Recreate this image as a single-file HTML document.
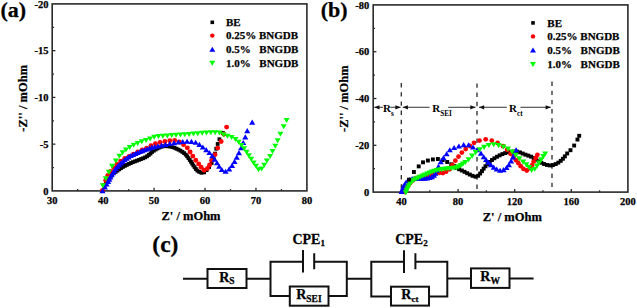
<!DOCTYPE html>
<html><head><meta charset="utf-8"><style>
html,body{margin:0;padding:0;background:#fff;width:637px;height:308px;overflow:hidden}
svg{display:block}
text{font-family:"Liberation Serif",serif;font-weight:bold;fill:#000;stroke:#000;stroke-width:0.25px}
.tk{font-size:10.5px}
.lab{font-size:12.5px}
.leg{font-size:11px}
.ann{font-size:11px;stroke-width:0}
.sub{font-size:7.2px;stroke-width:0}
.cl{font-size:14px}
.cs{font-size:9.5px}
.cp{font-size:14px}
.cps{font-size:9px}
.big{font-size:22px}
.bigc{font-size:23.5px}
</style></head><body>
<svg width="637" height="308" viewBox="0 0 637 308">
<rect x="52.2" y="3.9" width="254.70" height="187.00" fill="none" stroke="#2a2a2a" stroke-width="1.6"/><text transform="translate(52.20 204.30) scale(1 1.0)" text-anchor="middle" class="tk">30</text><line x1="77.67" y1="190.9" x2="77.67" y2="189.1" stroke="#2a2a2a" stroke-width="1.3"/><line x1="103.14" y1="190.9" x2="103.14" y2="187.70000000000002" stroke="#2a2a2a" stroke-width="1.3"/><text transform="translate(103.14 204.30) scale(1 1.0)" text-anchor="middle" class="tk">40</text><line x1="128.61" y1="190.9" x2="128.61" y2="189.1" stroke="#2a2a2a" stroke-width="1.3"/><line x1="154.08" y1="190.9" x2="154.08" y2="187.70000000000002" stroke="#2a2a2a" stroke-width="1.3"/><text transform="translate(154.08 204.30) scale(1 1.0)" text-anchor="middle" class="tk">50</text><line x1="179.55" y1="190.9" x2="179.55" y2="189.1" stroke="#2a2a2a" stroke-width="1.3"/><line x1="205.02" y1="190.9" x2="205.02" y2="187.70000000000002" stroke="#2a2a2a" stroke-width="1.3"/><text transform="translate(205.02 204.30) scale(1 1.0)" text-anchor="middle" class="tk">60</text><line x1="230.49" y1="190.9" x2="230.49" y2="189.1" stroke="#2a2a2a" stroke-width="1.3"/><line x1="255.96" y1="190.9" x2="255.96" y2="187.70000000000002" stroke="#2a2a2a" stroke-width="1.3"/><text transform="translate(255.96 204.30) scale(1 1.0)" text-anchor="middle" class="tk">70</text><line x1="281.43" y1="190.9" x2="281.43" y2="189.1" stroke="#2a2a2a" stroke-width="1.3"/><text transform="translate(306.90 204.30) scale(1 1.0)" text-anchor="middle" class="tk">80</text><text transform="translate(48.5 194.50) scale(1 1.0)" text-anchor="end" class="tk">0</text><line x1="52.2" y1="167.53" x2="54.0" y2="167.53" stroke="#2a2a2a" stroke-width="1.3"/><line x1="52.2" y1="144.15" x2="55.400000000000006" y2="144.15" stroke="#2a2a2a" stroke-width="1.3"/><text transform="translate(48.5 147.75) scale(1 1.0)" text-anchor="end" class="tk">-5</text><line x1="52.2" y1="120.78" x2="54.0" y2="120.78" stroke="#2a2a2a" stroke-width="1.3"/><line x1="52.2" y1="97.40" x2="55.400000000000006" y2="97.40" stroke="#2a2a2a" stroke-width="1.3"/><text transform="translate(48.5 101.00) scale(1 1.0)" text-anchor="end" class="tk">-10</text><line x1="52.2" y1="74.03" x2="54.0" y2="74.03" stroke="#2a2a2a" stroke-width="1.3"/><line x1="52.2" y1="50.65" x2="55.400000000000006" y2="50.65" stroke="#2a2a2a" stroke-width="1.3"/><text transform="translate(48.5 54.25) scale(1 1.0)" text-anchor="end" class="tk">-15</text><line x1="52.2" y1="27.28" x2="54.0" y2="27.28" stroke="#2a2a2a" stroke-width="1.3"/><text transform="translate(48.5 7.50) scale(1 1.0)" text-anchor="end" class="tk">-20</text><text transform="translate(191 220.00) scale(1 1.0)" text-anchor="middle" class="lab">Z' / mOhm</text><text transform="translate(27.3 98.3) rotate(-90)" text-anchor="middle" class="lab">-Z'' / mOhm</text><rect x="100.60" y="189.10" width="3.80" height="3.80" fill="#000"/><rect x="102.63" y="184.53" width="3.80" height="3.80" fill="#000"/><rect x="104.11" y="181.80" width="3.80" height="3.80" fill="#000"/><rect x="105.28" y="179.75" width="3.80" height="3.80" fill="#000"/><rect x="106.43" y="177.87" width="3.80" height="3.80" fill="#000"/><rect x="107.63" y="176.03" width="3.80" height="3.80" fill="#000"/><rect x="108.88" y="174.22" width="3.80" height="3.80" fill="#000"/><rect x="110.21" y="172.47" width="3.80" height="3.80" fill="#000"/><rect x="111.78" y="170.94" width="3.80" height="3.80" fill="#000"/><rect x="113.74" y="169.94" width="3.80" height="3.80" fill="#000"/><rect x="115.56" y="168.71" width="3.80" height="3.80" fill="#000"/><rect x="117.34" y="167.41" width="3.80" height="3.80" fill="#000"/><rect x="119.15" y="166.17" width="3.80" height="3.80" fill="#000"/><rect x="121.03" y="165.02" width="3.80" height="3.80" fill="#000"/><rect x="122.96" y="163.97" width="3.80" height="3.80" fill="#000"/><rect x="124.93" y="162.99" width="3.80" height="3.80" fill="#000"/><rect x="126.91" y="162.04" width="3.80" height="3.80" fill="#000"/><rect x="128.92" y="161.13" width="3.80" height="3.80" fill="#000"/><rect x="130.94" y="160.27" width="3.80" height="3.80" fill="#000"/><rect x="133.00" y="159.48" width="3.80" height="3.80" fill="#000"/><rect x="135.06" y="158.72" width="3.80" height="3.80" fill="#000"/><rect x="137.12" y="157.94" width="3.80" height="3.80" fill="#000"/><rect x="139.17" y="157.16" width="3.80" height="3.80" fill="#000"/><rect x="141.23" y="156.37" width="3.80" height="3.80" fill="#000"/><rect x="143.24" y="155.48" width="3.80" height="3.80" fill="#000"/><rect x="145.14" y="154.38" width="3.80" height="3.80" fill="#000"/><rect x="146.90" y="153.07" width="3.80" height="3.80" fill="#000"/><rect x="148.60" y="151.66" width="3.80" height="3.80" fill="#000"/><rect x="150.10" y="150.06" width="3.80" height="3.80" fill="#000"/><rect x="151.88" y="148.77" width="3.80" height="3.80" fill="#000"/><rect x="153.75" y="147.62" width="3.80" height="3.80" fill="#000"/><rect x="155.67" y="146.53" width="3.80" height="3.80" fill="#000"/><rect x="157.64" y="145.56" width="3.80" height="3.80" fill="#000"/><rect x="159.69" y="144.78" width="3.80" height="3.80" fill="#000"/><rect x="161.85" y="144.35" width="3.80" height="3.80" fill="#000"/><rect x="164.04" y="144.23" width="3.80" height="3.80" fill="#000"/><rect x="166.24" y="144.37" width="3.80" height="3.80" fill="#000"/><rect x="168.41" y="144.70" width="3.80" height="3.80" fill="#000"/><rect x="170.54" y="145.24" width="3.80" height="3.80" fill="#000"/><rect x="172.62" y="145.97" width="3.80" height="3.80" fill="#000"/><rect x="174.65" y="146.83" width="3.80" height="3.80" fill="#000"/><rect x="176.64" y="147.77" width="3.80" height="3.80" fill="#000"/><rect x="178.58" y="148.80" width="3.80" height="3.80" fill="#000"/><rect x="180.45" y="149.96" width="3.80" height="3.80" fill="#000"/><rect x="182.22" y="151.26" width="3.80" height="3.80" fill="#000"/><rect x="183.85" y="152.73" width="3.80" height="3.80" fill="#000"/><rect x="185.27" y="154.41" width="3.80" height="3.80" fill="#000"/><rect x="186.55" y="156.20" width="3.80" height="3.80" fill="#000"/><rect x="187.82" y="158.00" width="3.80" height="3.80" fill="#000"/><rect x="189.04" y="159.83" width="3.80" height="3.80" fill="#000"/><rect x="190.23" y="161.68" width="3.80" height="3.80" fill="#000"/><rect x="191.46" y="163.50" width="3.80" height="3.80" fill="#000"/><rect x="192.72" y="165.31" width="3.80" height="3.80" fill="#000"/><rect x="193.99" y="167.10" width="3.80" height="3.80" fill="#000"/><rect x="195.47" y="168.73" width="3.80" height="3.80" fill="#000"/><rect x="197.28" y="169.97" width="3.80" height="3.80" fill="#000"/><rect x="199.54" y="170.85" width="3.80" height="3.80" fill="#000"/><rect x="202.21" y="170.48" width="3.80" height="3.80" fill="#000"/><rect x="204.66" y="168.28" width="3.80" height="3.80" fill="#000"/><rect x="207.21" y="165.14" width="3.80" height="3.80" fill="#000"/><rect x="209.75" y="161.08" width="3.80" height="3.80" fill="#000"/><rect x="211.69" y="156.48" width="3.80" height="3.80" fill="#000"/><rect x="213.16" y="151.70" width="3.80" height="3.80" fill="#000"/><rect x="214.33" y="146.84" width="3.80" height="3.80" fill="#000"/><rect x="215.79" y="142.06" width="3.80" height="3.80" fill="#000"/><rect x="217.51" y="137.37" width="3.80" height="3.80" fill="#000"/><rect x="221.00" y="131.10" width="3.80" height="3.80" fill="#000"/><circle cx="102.50" cy="190.50" r="2.45" fill="#f00"/><circle cx="104.10" cy="185.24" r="2.45" fill="#f00"/><circle cx="105.74" cy="180.19" r="2.45" fill="#f00"/><circle cx="107.80" cy="175.49" r="2.45" fill="#f00"/><circle cx="110.59" cy="171.38" r="2.45" fill="#f00"/><circle cx="113.76" cy="167.77" r="2.45" fill="#f00"/><circle cx="116.95" cy="164.17" r="2.45" fill="#f00"/><circle cx="120.67" cy="161.11" r="2.45" fill="#f00"/><circle cx="124.77" cy="158.56" r="2.45" fill="#f00"/><circle cx="129.08" cy="156.34" r="2.45" fill="#f00"/><circle cx="133.42" cy="154.19" r="2.45" fill="#f00"/><circle cx="137.78" cy="152.05" r="2.45" fill="#f00"/><circle cx="142.21" cy="150.04" r="2.45" fill="#f00"/><circle cx="146.69" cy="148.15" r="2.45" fill="#f00"/><circle cx="150.96" cy="145.77" r="2.45" fill="#f00"/><circle cx="155.38" cy="143.71" r="2.45" fill="#f00"/><circle cx="160.08" cy="142.33" r="2.45" fill="#f00"/><circle cx="164.92" cy="141.57" r="2.45" fill="#f00"/><circle cx="169.78" cy="140.79" r="2.45" fill="#f00"/><circle cx="174.68" cy="140.53" r="2.45" fill="#f00"/><circle cx="179.37" cy="142.00" r="2.45" fill="#f00"/><circle cx="183.56" cy="144.63" r="2.45" fill="#f00"/><circle cx="187.33" cy="147.84" r="2.45" fill="#f00"/><circle cx="190.12" cy="151.95" r="2.45" fill="#f00"/><circle cx="192.86" cy="156.11" r="2.45" fill="#f00"/><circle cx="195.76" cy="160.18" r="2.45" fill="#f00"/><circle cx="198.66" cy="163.89" r="2.45" fill="#f00"/><circle cx="201.16" cy="167.26" r="2.45" fill="#f00"/><circle cx="204.05" cy="170.30" r="2.45" fill="#f00"/><circle cx="207.42" cy="168.49" r="2.45" fill="#f00"/><circle cx="209.60" cy="164.91" r="2.45" fill="#f00"/><circle cx="211.62" cy="160.34" r="2.45" fill="#f00"/><circle cx="215.03" cy="154.62" r="2.45" fill="#f00"/><circle cx="217.75" cy="148.09" r="2.45" fill="#f00"/><circle cx="221.15" cy="141.49" r="2.45" fill="#f00"/><circle cx="223.91" cy="134.23" r="2.45" fill="#f00"/><circle cx="226.60" cy="127.10" r="2.45" fill="#f00"/><path d="M102.50 188.25L105.56 193.35H99.44Z" fill="#00f"/><path d="M104.87 184.42L107.93 189.52H101.81Z" fill="#00f"/><path d="M106.68 181.45L109.74 186.55H103.62Z" fill="#00f"/><path d="M108.17 178.91L111.23 184.01H105.11Z" fill="#00f"/><path d="M109.30 176.66L112.36 181.76H106.24Z" fill="#00f"/><path d="M110.40 174.42L113.46 179.52H107.34Z" fill="#00f"/><path d="M111.68 172.27L114.74 177.37H108.62Z" fill="#00f"/><path d="M113.03 170.17L116.09 175.27H109.97Z" fill="#00f"/><path d="M114.34 168.04L117.40 173.14H111.28Z" fill="#00f"/><path d="M115.69 165.94L118.75 171.04H112.63Z" fill="#00f"/><path d="M117.28 164.01L120.34 169.11H114.22Z" fill="#00f"/><path d="M119.07 162.26L122.13 167.36H116.01Z" fill="#00f"/><path d="M120.81 160.47L123.87 165.57H117.75Z" fill="#00f"/><path d="M122.65 158.78L125.71 163.88H119.59Z" fill="#00f"/><path d="M124.61 157.23L127.67 162.33H121.55Z" fill="#00f"/><path d="M126.60 155.72L129.66 160.82H123.54Z" fill="#00f"/><path d="M128.65 154.28L131.71 159.38H125.59Z" fill="#00f"/><path d="M130.80 153.01L133.86 158.11H127.74Z" fill="#00f"/><path d="M133.04 151.91L136.10 157.01H129.98Z" fill="#00f"/><path d="M135.33 150.91L138.39 156.01H132.27Z" fill="#00f"/><path d="M137.63 149.92L140.69 155.02H134.57Z" fill="#00f"/><path d="M139.95 148.99L143.01 154.09H136.89Z" fill="#00f"/><path d="M142.28 148.09L145.34 153.19H139.22Z" fill="#00f"/><path d="M144.63 147.22L147.69 152.32H141.57Z" fill="#00f"/><path d="M146.98 146.38L150.04 151.48H143.92Z" fill="#00f"/><path d="M149.36 145.60L152.42 150.70H146.30Z" fill="#00f"/><path d="M151.81 144.83L154.87 149.93H148.75Z" fill="#00f"/><path d="M154.67 144.05L157.73 149.15H151.61Z" fill="#00f"/><path d="M157.94 143.32L161.00 148.42H154.88Z" fill="#00f"/><path d="M161.57 142.62L164.63 147.72H158.51Z" fill="#00f"/><path d="M165.51 141.86L168.57 146.96H162.45Z" fill="#00f"/><path d="M169.76 140.97L172.82 146.07H166.70Z" fill="#00f"/><path d="M174.06 140.08L177.12 145.18H171.00Z" fill="#00f"/><path d="M178.39 139.39L181.45 144.49H175.33Z" fill="#00f"/><path d="M182.73 138.88L185.79 143.98H179.67Z" fill="#00f"/><path d="M187.08 138.65L190.14 143.75H184.02Z" fill="#00f"/><path d="M191.43 138.81L194.49 143.91H188.37Z" fill="#00f"/><path d="M195.67 139.67L198.73 144.77H192.61Z" fill="#00f"/><path d="M199.40 141.82L202.46 146.92H196.34Z" fill="#00f"/><path d="M202.85 144.41L205.91 149.51H199.79Z" fill="#00f"/><path d="M206.23 147.05L209.29 152.15H203.17Z" fill="#00f"/><path d="M209.42 149.91L212.48 155.01H206.36Z" fill="#00f"/><path d="M212.26 153.08L215.32 158.18H209.20Z" fill="#00f"/><path d="M214.67 156.58L217.73 161.68H211.61Z" fill="#00f"/><path d="M216.98 160.13L220.04 165.23H213.92Z" fill="#00f"/><path d="M219.17 163.74L222.23 168.84H216.11Z" fill="#00f"/><path d="M221.80 167.00L224.86 172.10H218.74Z" fill="#00f"/><path d="M225.57 168.66L228.63 173.76H222.51Z" fill="#00f"/><path d="M229.20 166.34L232.26 171.44H226.14Z" fill="#00f"/><path d="M232.06 162.81L235.12 167.91H229.00Z" fill="#00f"/><path d="M234.53 158.83L237.59 163.93H231.47Z" fill="#00f"/><path d="M236.76 154.59L239.82 159.69H233.70Z" fill="#00f"/><path d="M238.93 150.04L241.99 155.14H235.87Z" fill="#00f"/><path d="M241.11 145.20L244.17 150.30H238.05Z" fill="#00f"/><path d="M243.24 139.97L246.30 145.07H240.18Z" fill="#00f"/><path d="M245.29 134.28L248.35 139.38H242.23Z" fill="#00f"/><path d="M247.27 128.04L250.33 133.14H244.21Z" fill="#00f"/><path d="M252.20 119.55L255.26 124.65H249.14Z" fill="#00f"/><path d="M102.80 188.30L105.80 183.30H99.80Z" fill="#0f0"/><path d="M105.80 181.32L108.80 176.32H102.80Z" fill="#0f0"/><path d="M108.78 174.75L111.78 169.75H105.78Z" fill="#0f0"/><path d="M112.09 168.78L115.09 163.78H109.09Z" fill="#0f0"/><path d="M115.85 163.56L118.85 158.56H112.85Z" fill="#0f0"/><path d="M119.39 158.71L122.39 153.71H116.39Z" fill="#0f0"/><path d="M122.55 155.29L125.55 150.29H119.55Z" fill="#0f0"/><path d="M125.98 152.39L128.98 147.39H122.98Z" fill="#0f0"/><path d="M129.69 149.90L132.69 144.90H126.69Z" fill="#0f0"/><path d="M133.64 147.81L136.64 142.81H130.64Z" fill="#0f0"/><path d="M137.67 145.92L140.67 140.92H134.67Z" fill="#0f0"/><path d="M141.76 144.19L144.76 139.19H138.76Z" fill="#0f0"/><path d="M146.03 143.02L149.03 138.02H143.03Z" fill="#0f0"/><path d="M150.14 141.41L153.14 136.41H147.14Z" fill="#0f0"/><path d="M154.19 139.66L157.19 134.66H151.19Z" fill="#0f0"/><path d="M158.52 138.88L161.52 133.88H155.52Z" fill="#0f0"/><path d="M162.91 138.66L165.91 133.66H159.91Z" fill="#0f0"/><path d="M167.30 138.41L170.30 133.41H164.30Z" fill="#0f0"/><path d="M171.67 138.06L174.67 133.06H168.67Z" fill="#0f0"/><path d="M176.04 137.74L179.04 132.74H173.04Z" fill="#0f0"/><path d="M180.42 137.49L183.42 132.49H177.42Z" fill="#0f0"/><path d="M184.78 137.26L187.78 132.26H181.78Z" fill="#0f0"/><path d="M189.14 136.95L192.14 131.95H186.14Z" fill="#0f0"/><path d="M193.48 136.55L196.48 131.55H190.48Z" fill="#0f0"/><path d="M197.82 136.16L200.82 131.16H194.82Z" fill="#0f0"/><path d="M202.16 135.83L205.16 130.83H199.16Z" fill="#0f0"/><path d="M206.50 135.53L209.50 130.53H203.50Z" fill="#0f0"/><path d="M210.83 135.28L213.83 130.28H207.83Z" fill="#0f0"/><path d="M215.17 135.19L218.17 130.19H212.17Z" fill="#0f0"/><path d="M219.48 135.58L222.48 130.58H216.48Z" fill="#0f0"/><path d="M223.48 137.16L226.48 132.16H220.48Z" fill="#0f0"/><path d="M227.47 138.79L230.47 133.79H224.47Z" fill="#0f0"/><path d="M231.58 140.07L234.58 135.07H228.58Z" fill="#0f0"/><path d="M235.46 141.89L238.46 136.89H232.46Z" fill="#0f0"/><path d="M238.64 144.74L241.64 139.74H235.64Z" fill="#0f0"/><path d="M241.48 147.94L244.48 142.94H238.48Z" fill="#0f0"/><path d="M244.11 151.29L247.11 146.29H241.11Z" fill="#0f0"/><path d="M246.55 154.77L249.55 149.77H243.55Z" fill="#0f0"/><path d="M248.87 158.34L251.87 153.34H245.87Z" fill="#0f0"/><path d="M251.22 161.87L254.22 156.87H248.22Z" fill="#0f0"/><path d="M253.60 165.38L256.60 160.38H250.60Z" fill="#0f0"/><path d="M256.05 168.82L259.05 163.82H253.05Z" fill="#0f0"/><path d="M258.51 172.25L261.51 167.25H255.51Z" fill="#0f0"/><path d="M261.65 171.59L264.65 166.59H258.65Z" fill="#0f0"/><path d="M264.25 167.85L267.25 162.85H261.25Z" fill="#0f0"/><path d="M266.81 163.49L269.81 158.49H263.81Z" fill="#0f0"/><path d="M270.12 159.10L273.12 154.10H267.12Z" fill="#0f0"/><path d="M272.52 153.96L275.52 148.96H269.52Z" fill="#0f0"/><path d="M275.25 148.82L278.25 143.82H272.25Z" fill="#0f0"/><path d="M277.66 143.35L280.66 138.35H274.66Z" fill="#0f0"/><path d="M280.41 136.86L283.41 131.86H277.41Z" fill="#0f0"/><path d="M283.69 129.32L286.69 124.32H280.69Z" fill="#0f0"/><path d="M286.60 122.90L289.60 117.90H283.60Z" fill="#0f0"/><rect x="210.50" y="20.50" width="3.60" height="3.60" fill="#000"/><text transform="translate(226 26.10) scale(1 1.0)" class="leg">BE</text><circle cx="212.30" cy="35.60" r="2.20" fill="#f00"/><text transform="translate(226 39.40) scale(1 1.0)" class="leg">0.25% BNGDB</text><path d="M212.30 46.70L215.30 51.70H209.30Z" fill="#00f"/><text transform="translate(226 53.20) scale(1 1.0)" class="leg">0.5%</text><text transform="translate(259.3 53.20) scale(1 1.0)" class="leg">BNGDB</text><path d="M212.30 65.80L215.30 60.80H209.30Z" fill="#0f0"/><text transform="translate(226 66.90) scale(1 1.0)" class="leg">1.0%</text><text transform="translate(259.3 66.90) scale(1 1.0)" class="leg">BNGDB</text><rect x="373.2" y="4.9" width="254.70" height="187.20" fill="none" stroke="#2a2a2a" stroke-width="1.6"/><line x1="401.50" y1="192.1" x2="401.50" y2="188.9" stroke="#2a2a2a" stroke-width="1.3"/><text transform="translate(401.50 205.30) scale(1 1.0)" text-anchor="middle" class="tk">40</text><line x1="429.80" y1="192.1" x2="429.80" y2="190.29999999999998" stroke="#2a2a2a" stroke-width="1.3"/><line x1="458.10" y1="192.1" x2="458.10" y2="188.9" stroke="#2a2a2a" stroke-width="1.3"/><text transform="translate(458.10 205.30) scale(1 1.0)" text-anchor="middle" class="tk">80</text><line x1="486.40" y1="192.1" x2="486.40" y2="190.29999999999998" stroke="#2a2a2a" stroke-width="1.3"/><line x1="514.70" y1="192.1" x2="514.70" y2="188.9" stroke="#2a2a2a" stroke-width="1.3"/><text transform="translate(514.70 205.30) scale(1 1.0)" text-anchor="middle" class="tk">120</text><line x1="543.00" y1="192.1" x2="543.00" y2="190.29999999999998" stroke="#2a2a2a" stroke-width="1.3"/><line x1="571.30" y1="192.1" x2="571.30" y2="188.9" stroke="#2a2a2a" stroke-width="1.3"/><text transform="translate(571.30 205.30) scale(1 1.0)" text-anchor="middle" class="tk">160</text><line x1="599.60" y1="192.1" x2="599.60" y2="190.29999999999998" stroke="#2a2a2a" stroke-width="1.3"/><text transform="translate(627.90 205.30) scale(1 1.0)" text-anchor="middle" class="tk">200</text><text transform="translate(369.3 195.70) scale(1 1.0)" text-anchor="end" class="tk">0</text><line x1="373.2" y1="168.70" x2="375.0" y2="168.70" stroke="#2a2a2a" stroke-width="1.3"/><line x1="373.2" y1="145.30" x2="376.4" y2="145.30" stroke="#2a2a2a" stroke-width="1.3"/><text transform="translate(369.3 148.90) scale(1 1.0)" text-anchor="end" class="tk">-20</text><line x1="373.2" y1="121.90" x2="375.0" y2="121.90" stroke="#2a2a2a" stroke-width="1.3"/><line x1="373.2" y1="98.50" x2="376.4" y2="98.50" stroke="#2a2a2a" stroke-width="1.3"/><text transform="translate(369.3 102.10) scale(1 1.0)" text-anchor="end" class="tk">-40</text><line x1="373.2" y1="75.10" x2="375.0" y2="75.10" stroke="#2a2a2a" stroke-width="1.3"/><line x1="373.2" y1="51.70" x2="376.4" y2="51.70" stroke="#2a2a2a" stroke-width="1.3"/><text transform="translate(369.3 55.30) scale(1 1.0)" text-anchor="end" class="tk">-60</text><line x1="373.2" y1="28.30" x2="375.0" y2="28.30" stroke="#2a2a2a" stroke-width="1.3"/><text transform="translate(369.3 8.50) scale(1 1.0)" text-anchor="end" class="tk">-80</text><text transform="translate(512.3 220.50) scale(1 1.0)" text-anchor="middle" class="lab">Z' / mOhm</text><text transform="translate(348.3 98.7) rotate(-90)" text-anchor="middle" class="lab">-Z'' / mOhm</text><line x1="401.3" y1="83" x2="401.3" y2="191.5" stroke="#2a2a2a" stroke-width="1.3" stroke-dasharray="4.4 4.8"/><line x1="477" y1="83.4" x2="477" y2="191.5" stroke="#2a2a2a" stroke-width="1.3" stroke-dasharray="4.4 4.8"/><line x1="552" y1="81.5" x2="552" y2="191.5" stroke="#2a2a2a" stroke-width="1.3" stroke-dasharray="4.4 4.8"/><line x1="374.3" y1="107.3" x2="383" y2="107.3" stroke="#444" stroke-width="1.1"/><line x1="390.3" y1="107.3" x2="400.6" y2="107.3" stroke="#444" stroke-width="1.1"/><line x1="402.7" y1="107.3" x2="429.6" y2="107.3" stroke="#444" stroke-width="1.1"/><line x1="448.2" y1="107.3" x2="475.5" y2="107.3" stroke="#444" stroke-width="1.1"/><line x1="479" y1="107.3" x2="506.8" y2="107.3" stroke="#444" stroke-width="1.1"/><line x1="520.4" y1="107.3" x2="550.8" y2="107.3" stroke="#444" stroke-width="1.1"/><path d="M374.3 107.3L379.50 105.2L379.50 109.39999999999999Z" fill="#111"/><path d="M400.6 107.3L395.40 105.2L395.40 109.39999999999999Z" fill="#111"/><path d="M402.7 107.3L407.90 105.2L407.90 109.39999999999999Z" fill="#111"/><path d="M475.5 107.3L470.30 105.2L470.30 109.39999999999999Z" fill="#111"/><path d="M479 107.3L484.20 105.2L484.20 109.39999999999999Z" fill="#111"/><path d="M550.8 107.3L545.60 105.2L545.60 109.39999999999999Z" fill="#111"/><text transform="translate(383 112.30) scale(1 1.0)" class="ann">R<tspan class="sub" dy="3.2">s</tspan></text><text transform="translate(432.3 112.00) scale(1 1.0)" class="ann">R<tspan class="sub" dy="3.6">SEI</tspan></text><text transform="translate(509.1 112.00) scale(1 1.0)" class="ann">R<tspan class="sub" dy="3.6">ct</tspan></text><rect x="402.70" y="184.30" width="3.80" height="3.80" fill="#000"/><rect x="407.25" y="178.05" width="3.90" height="3.90" fill="#000"/><rect x="411.96" y="170.03" width="3.90" height="3.90" fill="#000"/><rect x="416.77" y="164.43" width="3.90" height="3.90" fill="#000"/><rect x="421.05" y="160.38" width="3.90" height="3.90" fill="#000"/><rect x="425.93" y="158.58" width="3.90" height="3.90" fill="#000"/><rect x="430.93" y="157.49" width="3.90" height="3.90" fill="#000"/><rect x="435.93" y="157.05" width="3.90" height="3.90" fill="#000"/><rect x="440.75" y="158.18" width="3.90" height="3.90" fill="#000"/><rect x="445.24" y="160.05" width="3.90" height="3.90" fill="#000"/><rect x="449.30" y="162.33" width="3.90" height="3.90" fill="#000"/><rect x="452.05" y="164.12" width="3.90" height="3.90" fill="#000"/><rect x="454.52" y="165.82" width="3.90" height="3.90" fill="#000"/><rect x="457.14" y="167.28" width="3.90" height="3.90" fill="#000"/><rect x="459.87" y="168.53" width="3.90" height="3.90" fill="#000"/><rect x="462.55" y="169.88" width="3.90" height="3.90" fill="#000"/><rect x="465.20" y="171.28" width="3.90" height="3.90" fill="#000"/><rect x="467.89" y="172.61" width="3.90" height="3.90" fill="#000"/><rect x="470.61" y="173.87" width="3.90" height="3.90" fill="#000"/><rect x="473.47" y="174.76" width="3.90" height="3.90" fill="#000"/><rect x="476.20" y="173.79" width="3.90" height="3.90" fill="#000"/><rect x="478.20" y="171.55" width="3.90" height="3.90" fill="#000"/><rect x="480.01" y="169.16" width="3.90" height="3.90" fill="#000"/><rect x="481.73" y="166.70" width="3.90" height="3.90" fill="#000"/><rect x="483.53" y="164.31" width="3.90" height="3.90" fill="#000"/><rect x="485.54" y="162.08" width="3.90" height="3.90" fill="#000"/><rect x="487.70" y="160.00" width="3.90" height="3.90" fill="#000"/><rect x="490.00" y="158.07" width="3.90" height="3.90" fill="#000"/><rect x="492.45" y="156.34" width="3.90" height="3.90" fill="#000"/><rect x="495.03" y="154.82" width="3.90" height="3.90" fill="#000"/><rect x="497.68" y="153.41" width="3.90" height="3.90" fill="#000"/><rect x="500.40" y="152.15" width="3.90" height="3.90" fill="#000"/><rect x="503.22" y="151.11" width="3.90" height="3.90" fill="#000"/><rect x="506.11" y="150.31" width="3.90" height="3.90" fill="#000"/><rect x="509.06" y="149.81" width="3.90" height="3.90" fill="#000"/><rect x="512.05" y="149.58" width="3.90" height="3.90" fill="#000"/><rect x="515.05" y="149.71" width="3.90" height="3.90" fill="#000"/><rect x="517.96" y="150.42" width="3.90" height="3.90" fill="#000"/><rect x="520.72" y="151.57" width="3.90" height="3.90" fill="#000"/><rect x="523.50" y="152.71" width="3.90" height="3.90" fill="#000"/><rect x="526.34" y="153.67" width="3.90" height="3.90" fill="#000"/><rect x="529.16" y="154.70" width="3.90" height="3.90" fill="#000"/><rect x="531.81" y="156.09" width="3.90" height="3.90" fill="#000"/><rect x="534.30" y="157.77" width="3.90" height="3.90" fill="#000"/><rect x="536.83" y="159.37" width="3.90" height="3.90" fill="#000"/><rect x="539.45" y="160.83" width="3.90" height="3.90" fill="#000"/><rect x="542.17" y="162.10" width="3.90" height="3.90" fill="#000"/><rect x="545.03" y="163.01" width="3.90" height="3.90" fill="#000"/><rect x="547.98" y="163.48" width="3.90" height="3.90" fill="#000"/><rect x="550.95" y="163.13" width="3.90" height="3.90" fill="#000"/><rect x="553.77" y="162.10" width="3.90" height="3.90" fill="#000"/><rect x="556.40" y="160.68" width="3.90" height="3.90" fill="#000"/><rect x="558.80" y="158.87" width="3.90" height="3.90" fill="#000"/><rect x="560.98" y="156.81" width="3.90" height="3.90" fill="#000"/><rect x="562.92" y="154.43" width="3.90" height="3.90" fill="#000"/><rect x="565.23" y="151.49" width="3.90" height="3.90" fill="#000"/><rect x="568.53" y="148.25" width="3.90" height="3.90" fill="#000"/><rect x="572.21" y="143.59" width="3.90" height="3.90" fill="#000"/><rect x="575.51" y="137.61" width="3.90" height="3.90" fill="#000"/><rect x="577.25" y="133.85" width="3.90" height="3.90" fill="#000"/><circle cx="405.00" cy="192.00" r="2.40" fill="#f00"/><circle cx="406.50" cy="188.84" r="2.40" fill="#f00"/><circle cx="408.30" cy="185.84" r="2.40" fill="#f00"/><circle cx="410.23" cy="182.92" r="2.40" fill="#f00"/><circle cx="412.69" cy="180.45" r="2.40" fill="#f00"/><circle cx="415.70" cy="178.68" r="2.40" fill="#f00"/><circle cx="418.94" cy="177.36" r="2.40" fill="#f00"/><circle cx="422.30" cy="176.39" r="2.40" fill="#f00"/><circle cx="425.75" cy="175.76" r="2.40" fill="#f00"/><circle cx="429.19" cy="175.17" r="2.40" fill="#f00"/><circle cx="432.59" cy="174.32" r="2.40" fill="#f00"/><circle cx="435.95" cy="173.34" r="2.40" fill="#f00"/><circle cx="439.39" cy="172.83" r="2.40" fill="#f00"/><circle cx="442.87" cy="172.98" r="2.40" fill="#f00"/><circle cx="446.13" cy="171.72" r="2.40" fill="#f00"/><circle cx="449.66" cy="169.35" r="2.40" fill="#f00"/><circle cx="452.41" cy="164.96" r="2.40" fill="#f00"/><circle cx="455.35" cy="160.68" r="2.40" fill="#f00"/><circle cx="458.52" cy="156.55" r="2.40" fill="#f00"/><circle cx="461.88" cy="152.59" r="2.40" fill="#f00"/><circle cx="465.69" cy="149.06" r="2.40" fill="#f00"/><circle cx="469.88" cy="145.98" r="2.40" fill="#f00"/><circle cx="474.04" cy="142.87" r="2.40" fill="#f00"/><circle cx="479.53" cy="140.61" r="2.40" fill="#f00"/><circle cx="485.69" cy="139.31" r="2.40" fill="#f00"/><circle cx="491.78" cy="140.59" r="2.40" fill="#f00"/><circle cx="497.60" cy="142.99" r="2.40" fill="#f00"/><circle cx="503.02" cy="146.18" r="2.40" fill="#f00"/><circle cx="507.13" cy="149.84" r="2.40" fill="#f00"/><circle cx="510.58" cy="153.73" r="2.40" fill="#f00"/><circle cx="513.58" cy="157.32" r="2.40" fill="#f00"/><circle cx="516.02" cy="160.23" r="2.40" fill="#f00"/><circle cx="518.43" cy="163.17" r="2.40" fill="#f00"/><circle cx="520.73" cy="166.19" r="2.40" fill="#f00"/><circle cx="523.41" cy="168.88" r="2.40" fill="#f00"/><circle cx="526.75" cy="170.50" r="2.40" fill="#f00"/><circle cx="529.84" cy="168.44" r="2.40" fill="#f00"/><circle cx="531.99" cy="165.33" r="2.40" fill="#f00"/><circle cx="533.63" cy="161.68" r="2.40" fill="#f00"/><circle cx="535.67" cy="157.82" r="2.40" fill="#f00"/><circle cx="537.40" cy="154.80" r="2.40" fill="#f00"/><path d="M401.60 188.95L404.66 194.05H398.54Z" fill="#00f"/><path d="M402.43 186.59L405.49 191.69H399.37Z" fill="#00f"/><path d="M403.35 184.26L406.41 189.36H400.29Z" fill="#00f"/><path d="M404.50 182.05L407.56 187.15H401.44Z" fill="#00f"/><path d="M405.88 179.96L408.94 185.06H402.82Z" fill="#00f"/><path d="M407.66 178.22L410.72 183.32H404.60Z" fill="#00f"/><path d="M409.78 176.89L412.84 181.99H406.72Z" fill="#00f"/><path d="M412.13 176.09L415.19 181.19H409.07Z" fill="#00f"/><path d="M414.62 175.90L417.68 181.00H411.56Z" fill="#00f"/><path d="M417.12 175.82L420.18 180.92H414.06Z" fill="#00f"/><path d="M419.62 175.76L422.68 180.86H416.56Z" fill="#00f"/><path d="M422.12 175.74L425.18 180.84H419.06Z" fill="#00f"/><path d="M424.62 175.73L427.68 180.83H421.56Z" fill="#00f"/><path d="M427.10 175.43L430.16 180.53H424.04Z" fill="#00f"/><path d="M429.53 174.87L432.59 179.97H426.47Z" fill="#00f"/><path d="M431.90 174.07L434.96 179.17H428.84Z" fill="#00f"/><path d="M434.00 172.74L437.06 177.84H430.94Z" fill="#00f"/><path d="M435.42 170.70L438.48 175.80H432.36Z" fill="#00f"/><path d="M436.67 167.61L439.73 172.71H433.61Z" fill="#00f"/><path d="M438.47 163.66L441.53 168.76H435.41Z" fill="#00f"/><path d="M440.74 159.20L443.80 164.30H437.68Z" fill="#00f"/><path d="M443.51 155.05L446.57 160.15H440.45Z" fill="#00f"/><path d="M446.61 151.13L449.67 156.23H443.55Z" fill="#00f"/><path d="M449.79 147.27L452.85 152.37H446.73Z" fill="#00f"/><path d="M454.10 144.92L457.16 150.02H451.04Z" fill="#00f"/><path d="M458.87 143.43L461.93 148.53H455.81Z" fill="#00f"/><path d="M463.67 142.07L466.73 147.17H460.61Z" fill="#00f"/><path d="M468.60 142.18L471.66 147.28H465.54Z" fill="#00f"/><path d="M473.04 144.45L476.10 149.55H469.98Z" fill="#00f"/><path d="M477.21 147.21L480.27 152.31H474.15Z" fill="#00f"/><path d="M480.93 150.53L483.99 155.63H477.87Z" fill="#00f"/><path d="M483.74 154.16L486.80 159.26H480.68Z" fill="#00f"/><path d="M486.06 156.97L489.12 162.07H483.00Z" fill="#00f"/><path d="M488.41 159.70L491.47 164.80H485.35Z" fill="#00f"/><path d="M490.95 162.24L494.01 167.34H487.89Z" fill="#00f"/><path d="M493.73 164.54L496.79 169.64H490.67Z" fill="#00f"/><path d="M496.73 166.52L499.79 171.62H493.67Z" fill="#00f"/><path d="M500.08 167.75L503.14 172.85H497.02Z" fill="#00f"/><path d="M503.57 167.05L506.63 172.15H500.51Z" fill="#00f"/><path d="M506.52 165.02L509.58 170.12H503.46Z" fill="#00f"/><path d="M508.89 162.04L511.95 167.14H505.83Z" fill="#00f"/><path d="M511.10 158.36L514.16 163.46H508.04Z" fill="#00f"/><path d="M513.03 154.29L516.09 159.39H509.97Z" fill="#00f"/><path d="M514.86 150.18L517.92 155.28H511.80Z" fill="#00f"/><path d="M516.10 147.25L519.16 152.35H513.04Z" fill="#00f"/><path d="M405.80 195.25L408.86 190.15H402.74Z" fill="#0f0"/><path d="M406.67 192.91L409.73 187.81H403.61Z" fill="#0f0"/><path d="M407.62 190.60L410.68 185.50H404.56Z" fill="#0f0"/><path d="M408.81 188.40L411.87 183.30H405.75Z" fill="#0f0"/><path d="M410.20 186.33L413.26 181.23H407.14Z" fill="#0f0"/><path d="M411.81 184.41L414.87 179.31H408.75Z" fill="#0f0"/><path d="M413.74 182.83L416.80 177.73H410.68Z" fill="#0f0"/><path d="M415.96 181.69L419.02 176.59H412.90Z" fill="#0f0"/><path d="M418.23 180.64L421.29 175.54H415.17Z" fill="#0f0"/><path d="M420.50 179.61L423.56 174.51H417.44Z" fill="#0f0"/><path d="M422.80 178.62L425.86 173.52H419.74Z" fill="#0f0"/><path d="M425.10 177.64L428.16 172.54H422.04Z" fill="#0f0"/><path d="M427.39 176.64L430.45 171.54H424.33Z" fill="#0f0"/><path d="M429.67 175.62L432.73 170.52H426.61Z" fill="#0f0"/><path d="M431.97 174.62L435.03 169.52H428.91Z" fill="#0f0"/><path d="M434.31 173.75L437.37 168.65H431.25Z" fill="#0f0"/><path d="M436.72 173.09L439.78 167.99H433.66Z" fill="#0f0"/><path d="M439.18 172.63L442.24 167.53H436.12Z" fill="#0f0"/><path d="M441.64 172.21L444.70 167.11H438.58Z" fill="#0f0"/><path d="M444.11 171.83L447.17 166.73H441.05Z" fill="#0f0"/><path d="M446.59 171.51L449.65 166.41H443.53Z" fill="#0f0"/><path d="M449.07 171.20L452.13 166.10H446.01Z" fill="#0f0"/><path d="M451.56 170.99L454.62 165.89H448.50Z" fill="#0f0"/><path d="M454.05 170.77L457.11 165.67H450.99Z" fill="#0f0"/><path d="M456.52 170.38L459.58 165.28H453.46Z" fill="#0f0"/><path d="M458.84 169.47L461.90 164.37H455.78Z" fill="#0f0"/><path d="M460.89 168.04L463.95 162.94H457.83Z" fill="#0f0"/><path d="M462.96 166.64L466.02 161.54H459.90Z" fill="#0f0"/><path d="M465.42 164.98L468.48 159.88H462.36Z" fill="#0f0"/><path d="M468.60 162.25L471.66 157.15H465.54Z" fill="#0f0"/><path d="M472.09 158.67L475.15 153.57H469.03Z" fill="#0f0"/><path d="M475.68 155.19L478.74 150.09H472.62Z" fill="#0f0"/><path d="M479.80 152.37L482.86 147.27H476.74Z" fill="#0f0"/><path d="M484.14 149.90L487.20 144.80H481.08Z" fill="#0f0"/><path d="M488.77 148.03L491.83 142.93H485.71Z" fill="#0f0"/><path d="M493.70 147.35L496.76 142.25H490.64Z" fill="#0f0"/><path d="M498.63 148.15L501.69 143.05H495.57Z" fill="#0f0"/><path d="M503.41 149.61L506.47 144.51H500.35Z" fill="#0f0"/><path d="M507.97 151.65L511.03 146.55H504.91Z" fill="#0f0"/><path d="M512.08 154.49L515.14 149.39H509.02Z" fill="#0f0"/><path d="M515.80 157.82L518.86 152.72H512.74Z" fill="#0f0"/><path d="M519.30 161.39L522.36 156.29H516.24Z" fill="#0f0"/><path d="M523.10 164.63L526.16 159.53H520.04Z" fill="#0f0"/><path d="M526.35 167.47L529.41 162.37H523.29Z" fill="#0f0"/><path d="M529.00 170.19L532.06 165.09H525.94Z" fill="#0f0"/><path d="M531.65 172.91L534.71 167.81H528.59Z" fill="#0f0"/><path d="M534.76 171.76L537.82 166.66H531.70Z" fill="#0f0"/><path d="M537.01 168.69L540.07 163.59H533.95Z" fill="#0f0"/><path d="M539.17 165.57L542.23 160.47H536.11Z" fill="#0f0"/><path d="M541.20 162.36L544.26 157.26H538.14Z" fill="#0f0"/><path d="M543.33 159.21L546.39 154.11H540.27Z" fill="#0f0"/><path d="M545.20 156.50L548.26 151.40H542.14Z" fill="#0f0"/><rect x="407.10" y="177.70" width="3.80" height="3.80" fill="#000"/><rect x="531.20" y="21.10" width="3.60" height="3.60" fill="#000"/><text transform="translate(547.3 26.70) scale(1 1.0)" class="leg">BE</text><circle cx="533.00" cy="36.40" r="2.20" fill="#f00"/><text transform="translate(547.3 40.20) scale(1 1.0)" class="leg">0.25% BNGDB</text><path d="M533.00 47.40L536.00 52.40H530.00Z" fill="#00f"/><text transform="translate(547.3 53.90) scale(1 1.0)" class="leg">0.5%</text><text transform="translate(580.5999999999999 53.90) scale(1 1.0)" class="leg">BNGDB</text><path d="M533.00 66.90L536.00 61.90H530.00Z" fill="#0f0"/><text transform="translate(547.3 68.00) scale(1 1.0)" class="leg">1.0%</text><text transform="translate(580.5999999999999 68.00) scale(1 1.0)" class="leg">BNGDB</text><path d="M183 278.7H207.5M246.5 278.7H270.5M346.8 278.7H371.3M447.3 278.4H471M509.5 278.4H533.6" stroke="#111" stroke-width="2" fill="none"/><rect x="207.5" y="269" width="39" height="19" stroke="#111" stroke-width="2" fill="none"/><path d="M303 261.7H270.5V295.9H289.8M328.5 295.9H346.8V261.7H314" stroke="#111" stroke-width="2" fill="none"/><path d="M303 250V272.5M314.2 253.2V269.3" stroke="#111" stroke-width="2" fill="none"/><rect x="289.8" y="286.5" width="38.7" height="19.2" stroke="#111" stroke-width="2" fill="none"/><path d="M404 261.7H371.3V296.6H391M429 296.6H447.3V261.7H415.4" stroke="#111" stroke-width="2" fill="none"/><path d="M404 250.2V273M415.4 253.2V269.3" stroke="#111" stroke-width="2" fill="none"/><rect x="391" y="286.7" width="38" height="18.9" stroke="#111" stroke-width="2" fill="none"/><rect x="471" y="268.4" width="38.5" height="19.5" stroke="#111" stroke-width="2" fill="none"/><text x="219.2" y="281.7" class="cl">R<tspan class="cs" dy="2.3">S</tspan></text><text x="296.2" y="299.4" class="cl">R<tspan class="cs" dy="2.3">SEI</tspan></text><text x="401.3" y="299.4" class="cl">R<tspan class="cs" dy="2.3" style="font-size:9px">ct</tspan></text><text x="480.3" y="281.3" class="cl">R<tspan class="cs" dy="2.3">W</tspan></text><text transform="translate(292.4 244.2) scale(1 1.03)" class="cp">CPE<tspan class="cps" dy="2">1</tspan></text><text transform="translate(395.2 244.2) scale(1 1.03)" class="cp">CPE<tspan class="cps" dy="2">2</tspan></text><text transform="translate(0.5 16.50) scale(1 1.0)" class="big">(a)</text><text transform="translate(320.7 16.50) scale(1 1.0)" class="big">(b)</text><text transform="translate(152.3 251.50) scale(1 1.0)" class="bigc">(c)</text>
</svg></body></html>
